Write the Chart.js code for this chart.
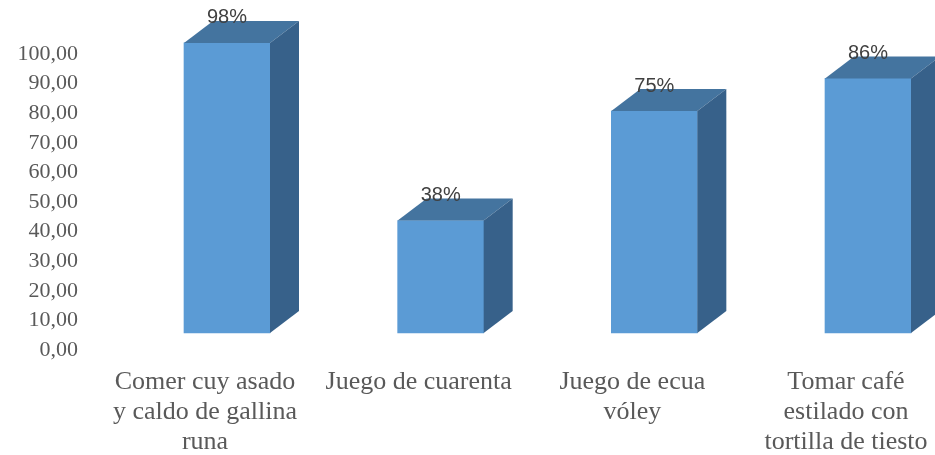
<!DOCTYPE html>
<html>
<head>
<meta charset="utf-8">
<script src="https://cdn.jsdelivr.net/npm/chart.js@4.4.0/dist/chart.umd.min.js"></script>
<style>
  html, body { margin: 0; padding: 0; background: #fff; }
  #wrap { width: 935px; height: 455px; }
</style>
</head>
<body>
<div id="wrap"><canvas id="juegosChart"></canvas></div>
<script>
const categories = [
    ['Comer cuy asado', 'y caldo de gallina', 'runa'],
    ['Juego de cuarenta'],
    ['Juego de ecua', 'vóley'],
    ['Tomar café', 'estilado con', 'tortilla de tiesto']
];
const percentages = [98, 38, 75, 86];
const yTickValues = [0, 10, 20, 30, 40, 50, 60, 70, 80, 90, 100];

// 3d look: top and side faces drawn next to each bar
const depthX = 29, depthY = -22;
const bar3d = {
    id: 'bar3d',
    afterDatasetsDraw(chart) {
        const ctx = chart.ctx;
        const meta = chart.getDatasetMeta(0);
        const base = chart.scales.y.getPixelForValue(0);
        ctx.save();
        meta.data.forEach(function (bar) {
            const l = bar.x - bar.width / 2;
            const r = bar.x + bar.width / 2;
            const t = bar.y;
            // top face
            ctx.fillStyle = '#44749f';
            ctx.beginPath();
            ctx.moveTo(l, t);
            ctx.lineTo(r, t);
            ctx.lineTo(r + depthX, t + depthY);
            ctx.lineTo(l + depthX, t + depthY);
            ctx.closePath();
            ctx.fill();
            // side face
            ctx.fillStyle = '#37618a';
            ctx.beginPath();
            ctx.moveTo(r, t);
            ctx.lineTo(r + depthX, t + depthY);
            ctx.lineTo(r + depthX, base + depthY);
            ctx.lineTo(r, base);
            ctx.closePath();
            ctx.fill();
        });
        // value labels
        ctx.fillStyle = '#404040';
        ctx.font = '20px "Liberation Sans", Arial, sans-serif';
        ctx.textAlign = 'center';
        ctx.textBaseline = 'middle';
        meta.data.forEach(function (bar, i) {
            ctx.fillText(percentages[i] + '%', bar.x, bar.y - 25);
        });
        ctx.restore();
    }
};

new Chart(document.getElementById('juegosChart'), {
    type: 'bar',
    data: {
        labels: categories,
        datasets: [{
            data: percentages,
            backgroundColor: '#5b9bd5',
            borderWidth: 0,
            barThickness: 86,
            clip: false
        }]
    },
    options: {
        responsive: true,
        maintainAspectRatio: false,
        animation: false,
        layout: { padding: { top: 37, right: 67, left: 0, bottom: 0 } },
        plugins: {
            legend: { display: false },
            tooltip: { enabled: false }
        },
        scales: {
            x: {
                offset: false,
                grid: { display: false, drawTicks: false },
                border: { display: false },
                afterFit: function (scale) {
                    scale.height = 122;
                    scale.paddingLeft = 0;
                    scale.paddingRight = 0;
                },
                ticks: {
                    labelOffset: -22,
                    padding: 34,
                    maxRotation: 0,
                    autoSkip: false,
                    color: '#595959',
                    font: { family: '"Liberation Serif", "Times New Roman", serif', size: 26, lineHeight: 1.15 }
                }
            },
            y: {
                min: 0,
                max: 100,
                afterBuildTicks: function (scale) {
                    scale.ticks = yTickValues.map(v => ({ value: v }));
                },
                afterFit: function (scale) {
                    scale.width = 227;
                    scale.paddingTop = 0;
                    scale.paddingBottom = 0;
                },
                grid: { display: false, drawTicks: false },
                border: { display: false },
                ticks: {
                    labelOffset: 17,
                    padding: 149,
                    color: '#595959',
                    font: { family: '"Liberation Serif", "Times New Roman", serif', size: 22 },
                    callback: function (v) { return Number(v).toFixed(2).replace('.', ','); }
                }
            }
        }
    },
    plugins: [bar3d]
});
</script>
</body>
</html>
